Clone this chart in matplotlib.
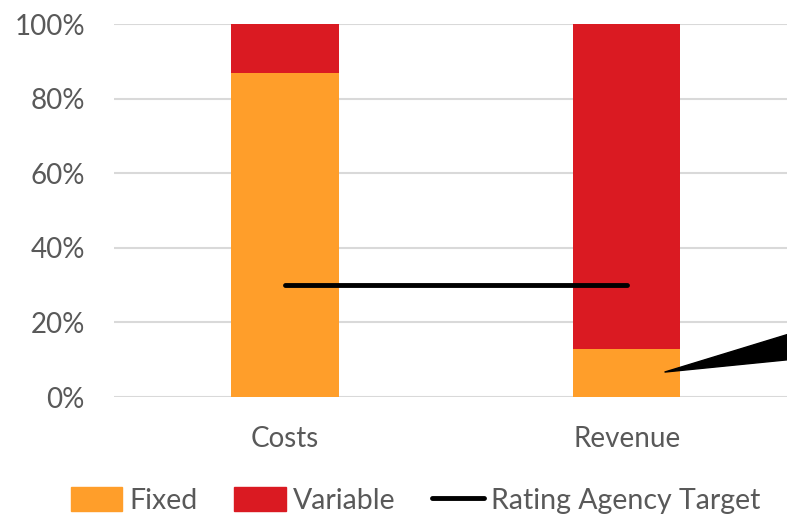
import matplotlib
matplotlib.use('Agg')
import matplotlib.pyplot as plt
from matplotlib.patches import Patch, Polygon
from matplotlib.lines import Line2D

# данные
categories = ['Costs', 'Revenue']
fixed = [0.87, 0.13]
variable = [0.13, 0.87]
target = [0.30, 0.30]
y_ticks = [0, 0.2, 0.4, 0.6, 0.8, 1.0]
y_labels = ['0%', '20%', '40%', '60%', '80%', '100%']

orange = '#FF9E2A'
red = '#DA1A22'
grey = '#595959'

plt.rcParams['font.family'] = ['Lato', 'DejaVu Sans']

fig = plt.figure(figsize=(7.87, 5.15), dpi=100)
ax = fig.add_axes([0.1449, 0.229, 0.869, 0.724])

x = list(range(len(categories)))
ax.bar(x, fixed, width=0.313, color=orange, zorder=2)
ax.bar(x, variable, width=0.313, bottom=fixed, color=red, zorder=2)
ax.plot(x, target, color='black', linewidth=3.5, solid_capstyle='round', zorder=3)

# клин справа внизу (выноска)
wedge = Polygon([(1.11, 0.067), (1.47, 0.168), (1.47, 0.10)], closed=True,
                color='black', clip_on=False, zorder=4)
ax.add_patch(wedge)

ax.set_xlim(-0.5, 1.5)
ax.set_ylim(0, 1.0)
ax.set_yticks(y_ticks)
ax.set_yticklabels(y_labels)
ax.set_xticks(x)
ax.set_xticklabels(categories)
ax.tick_params(axis='both', length=0, labelsize=20, colors=grey)
ax.tick_params(axis='y', pad=21)
ax.tick_params(axis='x', pad=21)

ax.yaxis.grid(True, color='#D9D9D9', linewidth=1.5, zorder=0)
ax.set_axisbelow(True)
for s in ax.spines.values():
    s.set_visible(False)

handles = [Patch(color=orange), Patch(color=red),
           Line2D([0], [0], color='black', linewidth=3.5, solid_capstyle='round')]
fig.legend(handles, ['Fixed', 'Variable', 'Rating Agency Target'],
           loc='center', bbox_to_anchor=(0.528, 0.028), ncol=3, frameon=False,
           fontsize=20.5, labelcolor=grey, handlelength=1.8, handleheight=0.9,
           handletextpad=0.25, columnspacing=1.3)

plt.savefig('out.png', dpi=100)
plt.close()
